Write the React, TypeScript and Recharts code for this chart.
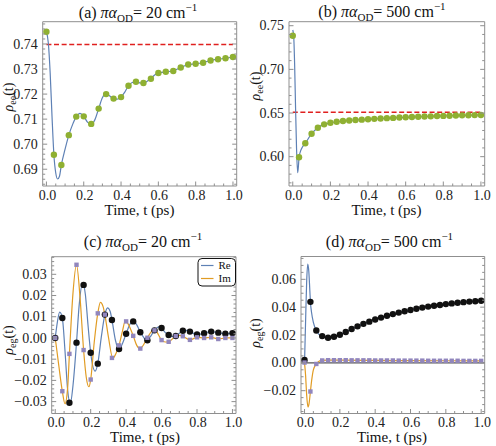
import React from "react";
import { ComposedChart, Line, Scatter, XAxis, YAxis, ReferenceLine } from "recharts";

const W = 496;
const H = 446;
const FONT = "Liberation Serif, Times New Roman, serif";
const FRAME = "#8f8f8f";
const BLUE = "#5e81b5";
const ORANGE = "#e19c24";
const GREEN = "#8fb032";
const PURPLE = "#9186bd";
const RED = "#e0201f";
const BLACK = "#111111";

const X_DOMAIN: [number, number] = [-0.02, 1.02];
const X_MAJOR = [0, 0.2, 0.4, 0.6, 0.8, 1.0];

// sample times of the markers
const T25 = [0, 0.04, 0.08, 0.12, 0.16, 0.2, 0.24, 0.28, 0.32, 0.36, 0.4, 0.44, 0.48, 0.52, 0.56, 0.6, 0.64, 0.68, 0.72, 0.76, 0.8, 0.84, 0.88, 0.92, 0.96, 1.0];
const T30 = [0, 0.0333, 0.0667, 0.1, 0.1333, 0.1667, 0.2, 0.2333, 0.2667, 0.3, 0.3333, 0.3667, 0.4, 0.4333, 0.4667, 0.5, 0.5333, 0.5667, 0.6, 0.6333, 0.6667, 0.7, 0.7333, 0.7667, 0.8, 0.8333, 0.8667, 0.9, 0.9333, 0.9667, 1.0];

// (a) rho_ee, 20 cm^-1
const aDots = [0.7449, 0.6958, 0.6917, 0.7036, 0.711, 0.7111, 0.7081, 0.7142, 0.72, 0.7182, 0.7188, 0.7233, 0.7249, 0.7244, 0.7261, 0.7284, 0.7289, 0.7292, 0.7306, 0.7318, 0.7321, 0.7325, 0.7334, 0.7339, 0.7343, 0.7348];
const aLineT = [0, 0.01, 0.02, 0.03, 0.04, 0.05, 0.06, 0.07, 0.08, 0.1, 0.12, 0.14, 0.16, 0.18, 0.2, 0.22, 0.24, 0.26, 0.28, 0.3, 0.32, 0.34, 0.36, 0.38, 0.4, 0.42, 0.44, 0.46, 0.48, 0.5, 0.52, 0.54, 0.56, 0.58, 0.6, 0.64, 0.68, 0.72, 0.76, 0.8, 0.84, 0.88, 0.92, 0.96, 1.0];
const aLineV = [0.7449, 0.7405, 0.7285, 0.711, 0.6958, 0.6885, 0.6861, 0.6872, 0.6917, 0.698, 0.7036, 0.7078, 0.711, 0.7123, 0.7111, 0.7088, 0.7079, 0.7098, 0.7142, 0.7185, 0.7204, 0.7192, 0.7181, 0.718, 0.7188, 0.7208, 0.7233, 0.7246, 0.7249, 0.7245, 0.7244, 0.7251, 0.7262, 0.7276, 0.7284, 0.7289, 0.7293, 0.7306, 0.7318, 0.7321, 0.7326, 0.7334, 0.7339, 0.7343, 0.7348];
const aRef = 0.7398;
const aYTicks = [0.69, 0.7, 0.71, 0.72, 0.73, 0.74];

// (b) rho_ee, 500 cm^-1
const bDots = [0.7385, 0.5993, 0.6153, 0.6263, 0.6332, 0.637, 0.6388, 0.64, 0.6408, 0.6414, 0.642, 0.6424, 0.6428, 0.6433, 0.6437, 0.6441, 0.6444, 0.6448, 0.6451, 0.6454, 0.6457, 0.646, 0.6462, 0.6465, 0.6467, 0.6469, 0.6471, 0.6473, 0.6475, 0.6476, 0.6478];
const bLineT = [0, 0.005, 0.01, 0.015, 0.02, 0.026, 0.03, 0.0333, 0.04, 0.05, 0.0667, 0.1, 0.1333, 0.1667, 0.2, 0.2667, 0.3333, 0.4, 0.5, 0.6, 0.7, 0.8, 0.9, 1.0];
const bLineV = [0.7451, 0.738, 0.705, 0.655, 0.61, 0.5816, 0.589, 0.5993, 0.6055, 0.6105, 0.6153, 0.6263, 0.6332, 0.637, 0.6388, 0.6408, 0.642, 0.6428, 0.6441, 0.6451, 0.646, 0.6467, 0.6473, 0.6478];
const bRef = 0.651;
const bYTicks = [0.6, 0.65, 0.7, 0.75];

// (c) rho_eg, 20 cm^-1
const cReDots = [0, 0.0094, -0.0305, -0.0022, 0.025, -0.007, -0.0121, 0.011, 0.0085, -0.0052, 0.002, 0.0078, 0.0027, -0.0011, 0.0036, 0.0047, 0.0014, 0.0009, 0.0034, 0.003, 0.0016, 0.0022, 0.003, 0.0025, 0.002, 0.0023];
const cImDots = [0, -0.0251, -0.0075, 0.0345, -0.0057, -0.0196, 0.0116, 0.011, -0.0094, -0.0035, 0.0078, 0.001, -0.005, 0.0001, 0.0036, -0.001, -0.0018, 0.0009, 0.0008, -0.0009, 0.0003, 0, 0.0003, -0.0005, 0, 0];
const cReT = [0, 0.012, 0.025, 0.04, 0.055, 0.07, 0.085, 0.1, 0.12, 0.135, 0.155, 0.17, 0.185, 0.2, 0.225, 0.24, 0.26, 0.28, 0.295, 0.31, 0.32, 0.34, 0.36, 0.38, 0.4, 0.42, 0.44, 0.46, 0.48, 0.5, 0.515, 0.52, 0.54, 0.56, 0.585, 0.6, 0.62, 0.64, 0.66, 0.68, 0.7, 0.72, 0.74, 0.76, 0.8, 0.84, 0.88, 0.92, 0.96, 1.0];
const cReV = [0, 0.0075, 0.0122, 0.0094, -0.006, -0.0245, -0.031, -0.0225, -0.0022, 0.0155, 0.026, 0.0205, 0.006, -0.007, -0.0156, -0.0121, 0.0005, 0.011, 0.0142, 0.0125, 0.0085, -0.0012, -0.0055, -0.0025, 0.002, 0.0062, 0.0079, 0.0062, 0.0027, 0.0002, -0.0013, -0.0011, 0.001, 0.0036, 0.0052, 0.0047, 0.0026, 0.0014, 0.0007, 0.0009, 0.0022, 0.0034, 0.0036, 0.003, 0.0016, 0.0022, 0.003, 0.0025, 0.002, 0.0023];
const cImT = [0, 0.02, 0.04, 0.055, 0.07, 0.08, 0.1, 0.12, 0.14, 0.16, 0.175, 0.19, 0.2, 0.22, 0.24, 0.255, 0.27, 0.28, 0.3, 0.325, 0.34, 0.36, 0.38, 0.395, 0.41, 0.44, 0.46, 0.475, 0.49, 0.52, 0.555, 0.57, 0.6, 0.62, 0.64, 0.68, 0.7, 0.72, 0.76, 0.8, 0.84, 0.88, 0.92, 0.96, 1.0];
const cImV = [0, -0.013, -0.0251, -0.031, -0.0235, -0.0075, 0.021, 0.0345, 0.019, -0.0057, -0.0185, -0.023, -0.0196, -0.002, 0.0116, 0.0168, 0.0148, 0.011, 0.0005, -0.0096, -0.0078, -0.0035, 0.0035, 0.008, 0.0068, 0.001, -0.0035, -0.005, -0.0042, 0.0001, 0.0038, 0.0032, -0.001, -0.0019, -0.0018, 0.0009, 0.0012, 0.0008, -0.0009, 0.0003, 0, 0.0003, -0.0005, 0, 0];
const cYTicks = [-0.03, -0.02, -0.01, 0, 0.01, 0.02, 0.03];

// (d) rho_eg, 500 cm^-1
const dReDots = [0.002, 0.0438, 0.0232, 0.0192, 0.018, 0.0187, 0.0202, 0.0222, 0.0243, 0.0262, 0.028, 0.0296, 0.0311, 0.0325, 0.0338, 0.035, 0.0361, 0.0371, 0.038, 0.0389, 0.0397, 0.0404, 0.041, 0.0416, 0.0422, 0.0427, 0.0432, 0.0436, 0.044, 0.0443, 0.0446];
const dImDots = [0.0002, -0.0206, -0.0008, 0.0017, 0.0019, 0.0019, 0.0019, 0.0019, 0.0018, 0.0018, 0.0018, 0.0018, 0.0017, 0.0017, 0.0017, 0.0017, 0.0016, 0.0016, 0.0016, 0.0016, 0.0016, 0.0015, 0.0015, 0.0015, 0.0015, 0.0015, 0.0015, 0.0014, 0.0014, 0.0014, 0.0014];
const dReT = [0, 0.006, 0.012, 0.018, 0.024, 0.03, 0.0333, 0.04, 0.05, 0.0667, 0.08, 0.1, 0.1333, 0.1667, 0.2, 0.2667, 0.3333, 0.4, 0.5, 0.6, 0.7, 0.8, 0.9, 1.0];
const dReV = [0, 0.03, 0.058, 0.0709, 0.066, 0.052, 0.0438, 0.036, 0.029, 0.0232, 0.0207, 0.0192, 0.018, 0.0187, 0.0202, 0.0243, 0.028, 0.0311, 0.035, 0.038, 0.0404, 0.0422, 0.0436, 0.0446];
const dImT = [0, 0.006, 0.012, 0.02, 0.026, 0.0333, 0.04, 0.05, 0.0667, 0.08, 0.1, 0.1333, 0.2, 0.4, 0.6, 0.8, 1.0];
const dImV = [0, -0.009, -0.023, -0.0318, -0.029, -0.0206, -0.013, -0.005, -0.0008, 0.001, 0.0017, 0.0019, 0.0019, 0.0017, 0.0016, 0.0015, 0.0014];
const dYTicks = [-0.02, 0, 0.02, 0.04, 0.06];

const pts = (ts: number[], vs: number[]) => ts.map((t, i) => ({ t, v: vs[i] }));
const flat = (v: number) => [{ t: 0, v }, { t: 1, v }];

type Side = "bottom" | "top" | "left" | "right";
type Box = { l: number; t: number; r: number; b: number };

const fmtX = (v: number) => v.toFixed(1);
const fmtY = (v: number) => v.toFixed(2).replace("-", "\u2212");

function ticksIn(domain: [number, number], step: number) {
  const out: number[] = [];
  const start = Math.ceil(domain[0] / step - 1e-6);
  const end = Math.floor(domain[1] / step + 1e-6);
  for (let k = start; k <= end; k++) out.push(+(k * step).toFixed(6) + 0);
  return out;
}

// inward frame ticks, Mathematica style
function frameTick(side: Side, majors: number[], fmt?: (v: number) => string) {
  return (p: any) => {
    const v = Number(p.payload?.value);
    const major = majors.some((m) => Math.abs(m - v) < 1e-7);
    const len = major ? 4.5 : 2.5;
    const x = Number(p.x);
    const y = Number(p.y);
    let x2 = x;
    let y2 = y;
    if (side === "bottom") y2 = y - len;
    if (side === "top") y2 = y + len;
    if (side === "left") x2 = x + len;
    if (side === "right") x2 = x - len;
    return (
      <g>
        <line x1={x} y1={y} x2={x2} y2={y2} stroke={FRAME} strokeWidth={1} />
        {major && fmt && side === "bottom" && (
          <text x={x + 1} y={y + 13.5} textAnchor="middle" fontSize={14} style={{ fontFamily: FONT }} fill="#222">{fmt(v)}</text>
        )}
        {major && fmt && side === "left" && (
          <text x={x - 5} y={y + 4.6} textAnchor="end" fontSize={14} style={{ fontFamily: FONT }} fill="#222">{fmt(v)}</text>
        )}
      </g>
    );
  };
}

const dot = (color: string, r = 3.2) => (p: any) => <circle cx={p.cx} cy={p.cy} r={r} fill={color} />;
const square = (color: string, s = 4.4) => (p: any) => (
  <rect x={p.cx - s / 2} y={p.cy - s / 2} width={s} height={s} fill={color} />
);

type PanelProps = {
  box: Box;
  yDomain: [number, number];
  yMajor: number[];
  yMinor: number;
  children: React.ReactNode;
};

// axes are 1px thick (a 0 size axis is not drawn), so margins are 1px smaller
function Panel({ box, yDomain, yMajor, yMinor, children }: PanelProps) {
  const xTicks = ticksIn(X_DOMAIN, 0.05);
  const yTicks = ticksIn(yDomain, yMinor);
  const common = { tickSize: 0, tickMargin: 0, tickLine: false, interval: 0 as const, allowDataOverflow: true, axisLine: { stroke: FRAME } };
  return (
    <div style={{ position: "absolute", left: 0, top: 0 }}>
      <ComposedChart width={W} height={H} margin={{ top: box.t - 1, left: box.l - 1, right: W - box.r - 1, bottom: H - box.b - 1 }}>
        <XAxis dataKey="t" type="number" domain={X_DOMAIN} ticks={xTicks} height={1} tick={frameTick("bottom", X_MAJOR, fmtX)} {...common} />
        <XAxis xAxisId="top" orientation="top" type="number" domain={X_DOMAIN} ticks={xTicks} height={1} tick={frameTick("top", X_MAJOR)} {...common} />
        <YAxis dataKey="v" type="number" domain={yDomain} ticks={yTicks} width={1} tick={frameTick("left", yMajor, fmtY)} {...common} />
        <YAxis yAxisId="right" orientation="right" type="number" domain={yDomain} ticks={yTicks} width={1} tick={frameTick("right", yMajor)} {...common} />
        {children}
      </ComposedChart>
    </div>
  );
}

const titles = [
  { tag: "(a)", val: "20", cx: 138, y: 17.5 },
  { tag: "(b)", val: "500", cx: 382, y: 17 },
  { tag: "(c)", val: "20", cx: 143, y: 247 },
  { tag: "(d)", val: "500", cx: 389.5, y: 247 },
];
const yLabels = [
  { sub: "ee", x: 13, cy: 97 },
  { sub: "ee", x: 260, cy: 86 },
  { sub: "eg", x: 13, cy: 340 },
  { sub: "eg", x: 260, cy: 333 },
];
const xLabels = [
  { cx: 139.5, y: 215 },
  { cx: 386.5, y: 215 },
  { cx: 145, y: 442 },
  { cx: 392, y: 442 },
];
const legendItems = [
  { name: "Re", color: BLUE },
  { name: "Im", color: ORANGE },
];

function Overlay() {
  const txt = { fontFamily: FONT };
  return (
    <svg width={W} height={H} style={{ position: "absolute", left: 0, top: 0, pointerEvents: "none" }}>
      {titles.map((t) => (
        <text key={t.tag} x={t.cx} y={t.y} textAnchor="middle" fontSize={16} style={txt} fill="#111">
          {t.tag}{" "}
          <tspan fontStyle="italic">πα</tspan>
          <tspan fontSize={11} dy={4}>OD</tspan>
          <tspan dy={-4}>{`= ${t.val} cm`}</tspan>
          <tspan fontSize={11} dy={-7}>−1</tspan>
        </text>
      ))}
      {yLabels.map((l, i) => (
        <text key={i} transform={`translate(${l.x},${l.cy}) rotate(-90)`} textAnchor="middle" fontSize={14} style={txt} fill="#111">
          <tspan fontStyle="italic">ρ</tspan>
          <tspan fontSize={10} dy={3}>{l.sub}</tspan>
          <tspan dy={-3}>(t)</tspan>
        </text>
      ))}
      {xLabels.map((l, i) => (
        <text key={i} x={l.cx} y={l.y} textAnchor="middle" fontSize={15} style={txt} fill="#111">
          Time, t (ps)
        </text>
      ))}
      <g>
        <rect x={198} y={258.5} width={37.5} height={27.5} rx={4} fill="#fff" stroke="#111" strokeWidth={1} />
        {legendItems.map((it, i) => (
          <g key={it.name}>
            <line x1={201} x2={213.5} y1={265.5 + i * 13} y2={265.5 + i * 13} stroke={it.color} strokeWidth={1.2} />
            <text x={218.5} y={269.3 + i * 13} fontSize={11} style={txt} fill="#111">{it.name}</text>
          </g>
        ))}
      </g>
    </svg>
  );
}

export default function App() {
  return (
    <div style={{ position: "absolute", left: 0, top: 0, width: W, height: H, background: "#fff", overflow: "hidden", fontFamily: FONT }}>
      <Panel box={{ l: 42.7, t: 21.7, r: 236.7, b: 186 }} yDomain={[0.6833, 0.7489]} yMajor={aYTicks} yMinor={0.002}>
        <Line data={flat(aRef)} dataKey="v" stroke={RED} strokeWidth={1.5} strokeDasharray="5 2.6" dot={false} isAnimationActive={false} />
        <Line data={pts(aLineT, aLineV)} dataKey="v" type="monotone" stroke={BLUE} strokeWidth={1.2} dot={false} isAnimationActive={false} />
        <Scatter data={pts(T25, aDots)} dataKey="v" fill={GREEN} shape={dot(GREEN)} isAnimationActive={false} />
      </Panel>
      <Panel box={{ l: 289, t: 21.7, r: 484.7, b: 186 }} yDomain={[0.5664, 0.7546]} yMajor={bYTicks} yMinor={0.01}>
        <Line data={flat(bRef)} dataKey="v" stroke={RED} strokeWidth={1.5} strokeDasharray="5 2.6" dot={false} isAnimationActive={false} />
        <Line data={pts(bLineT, bLineV)} dataKey="v" type="monotone" stroke={BLUE} strokeWidth={1.2} dot={false} isAnimationActive={false} />
        <Scatter data={pts(T30, bDots)} dataKey="v" fill={GREEN} shape={dot(GREEN)} isAnimationActive={false} />
      </Panel>
      <Panel box={{ l: 51.7, t: 256.7, r: 236, b: 413.5 }} yDomain={[-0.0356, 0.0383]} yMajor={cYTicks} yMinor={0.002}>
        <Line data={pts(cReT, cReV)} dataKey="v" type="monotone" stroke={BLUE} strokeWidth={1.2} dot={false} isAnimationActive={false} />
        <Line data={pts(cImT, cImV)} dataKey="v" type="monotone" stroke={ORANGE} strokeWidth={1.2} dot={false} isAnimationActive={false} />
        <Scatter data={pts(T25, cReDots)} dataKey="v" fill={BLACK} shape={dot(BLACK)} isAnimationActive={false} />
        <Scatter data={pts(T25, cImDots)} dataKey="v" fill={PURPLE} shape={square(PURPLE)} isAnimationActive={false} />
      </Panel>
      <Panel box={{ l: 301, t: 256.5, r: 484.7, b: 413.5 }} yDomain={[-0.0364, 0.0764]} yMajor={dYTicks} yMinor={0.005}>
        <ReferenceLine y={0} stroke="#555" strokeWidth={1.3} />
        <Line data={pts(dReT, dReV)} dataKey="v" type="monotone" stroke={BLUE} strokeWidth={1.2} dot={false} isAnimationActive={false} />
        <Line data={pts(dImT, dImV)} dataKey="v" type="monotone" stroke={ORANGE} strokeWidth={1.2} dot={false} isAnimationActive={false} />
        <Scatter data={pts(T30, dReDots)} dataKey="v" fill={BLACK} shape={dot(BLACK)} isAnimationActive={false} />
        <Scatter data={pts(T30, dImDots)} dataKey="v" fill={PURPLE} shape={square(PURPLE)} isAnimationActive={false} />
      </Panel>
      <Overlay />
    </div>
  );
}
